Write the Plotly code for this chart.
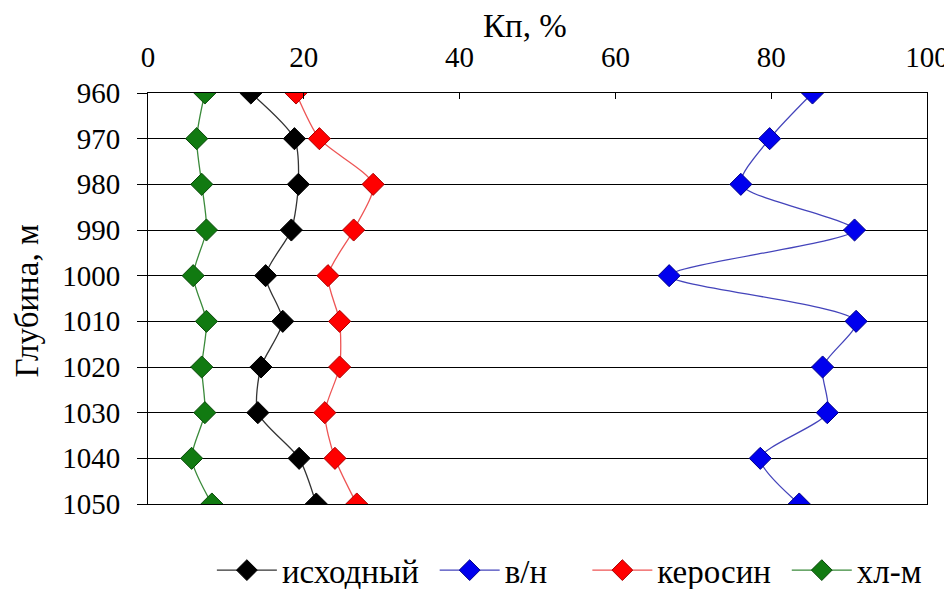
import plotly.graph_objects as go

depth = [960, 970, 980, 990, 1000, 1010, 1020, 1030, 1040, 1050]
ishodny = [13.2, 18.8, 19.3, 18.4, 15.1, 17.3, 14.5, 14.1, 19.4, 21.6]
vn = [85.3, 79.8, 76.1, 90.7, 66.9, 90.9, 86.6, 87.2, 78.6, 83.6]
kerosin = [19.0, 22.0, 28.9, 26.4, 23.1, 24.6, 24.6, 22.7, 24.0, 26.8]
hlm = [7.3, 6.25, 6.9, 7.5, 5.8, 7.5, 6.9, 7.3, 5.6, 8.2]

names = ["исходный", "в/н", "керосин", "хл-м"]
series = [ishodny, vn, kerosin, hlm]
marker_colors = ["#000000", "#0000ee", "#ff0000", "#117a11"]
line_colors = ["#333333", "#4444bb", "#ee5555", "#3a8a3a"]
outline_colors = ["#000000", "#000088", "#aa0000", "#0a4a0a"]
legend_ids = ["legend", "legend2", "legend3", "legend4"]
legend_x = [0.082, 0.368, 0.564, 0.82]

FF = "Liberation Serif"
TXT = 33
NUM = 29

fig = go.Figure()
for name, vals, mc, lc, oc, lid in zip(names, series, marker_colors, line_colors, outline_colors, legend_ids):
    fig.add_trace(go.Scatter(
        x=vals, y=depth, name=name, mode="lines+markers", legend=lid,
        line=dict(color=lc, width=1.3, shape="spline", smoothing=0.7),
        marker=dict(symbol="diamond", size=17, color=mc, line=dict(color=oc, width=1)),
    ))

legend_common = dict(orientation="h", xanchor="left", y=-0.161, yanchor="middle",
                     font=dict(family=FF, size=TXT, color="black"),
                     itemwidth=60, bgcolor="rgba(0,0,0,0)")
legends = {}
for lid, lx in zip(legend_ids, legend_x):
    legends[lid] = dict(legend_common, x=lx)

fig.update_layout(
    width=944, height=581,
    margin=dict(l=140, r=25, t=85, b=85, autoexpand=False),
    paper_bgcolor="white", plot_bgcolor="white",
    font=dict(family=FF, size=NUM, color="black"),
    showlegend=True,
    xaxis=dict(
        side="top", range=[0, 100], dtick=20, tick0=0,
        showgrid=False, zeroline=False, automargin=False,
        showline=True, linecolor="black", linewidth=1, mirror=True,
        ticks="inside", ticklen=6, tickcolor="black",
        tickfont=dict(family=FF, size=NUM, color="black"),
        ticklabelstandoff=13, ticklabeloverflow="allow",
    ),
    yaxis=dict(
        range=[1050, 960], dtick=10, tick0=960, autorange=False,
        showgrid=True, gridcolor="black", gridwidth=1,
        zeroline=False, automargin=False,
        showline=True, linecolor="black", linewidth=1, mirror=True,
        ticks="outside", ticklen=10, tickcolor="black",
        tickfont=dict(family=FF, size=NUM, color="black"),
        ticklabelstandoff=11, ticklabeloverflow="allow",
    ),
    annotations=[
        dict(text="Кп, %", xref="paper", yref="paper", x=0.5, xshift=-13, y=1.0, yshift=67,
             xanchor="center", yanchor="middle", showarrow=False,
             font=dict(family=FF, size=TXT, color="black")),
        dict(text="Глубина, м", xref="paper", yref="paper", x=0, xshift=-122, y=0.5, yshift=-3,
             xanchor="center", yanchor="middle", textangle=-90, showarrow=False,
             font=dict(family=FF, size=TXT, color="black")),
    ],
    **legends,
)

fig.write_html("out.html")
